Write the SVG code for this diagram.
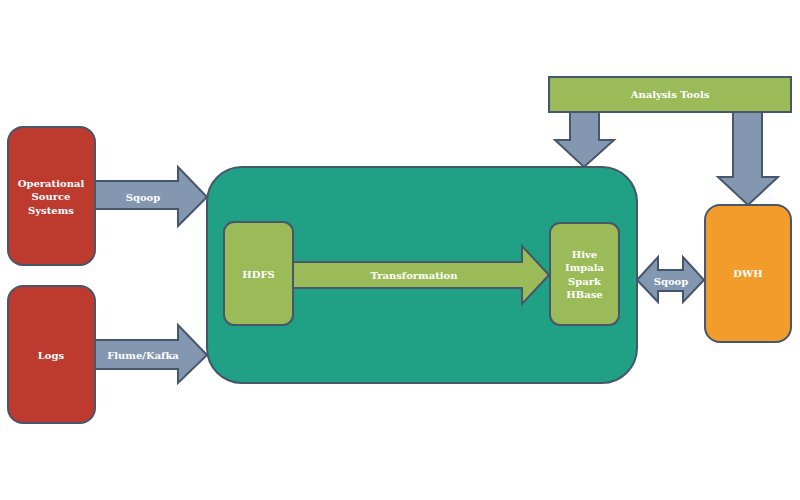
<svg xmlns="http://www.w3.org/2000/svg" width="800" height="500" viewBox="0 0 800 500">
<style>
  .st { stroke: #46566b; stroke-width: 2; stroke-linejoin: miter; }
  .red { fill: #bd3a2f; }
  .teal { fill: #20a084; }
  .green { fill: #9bbb59; }
  .orange { fill: #f29c2b; }
  .arr { fill: #8497b0; stroke: #46566b; stroke-width: 2; stroke-linejoin: miter; }
  .garr { fill: #9bbb59; stroke: #46566b; stroke-width: 2; stroke-linejoin: miter; }
  text { font-family: "DejaVu Serif", "Liberation Serif", serif; font-weight: bold; font-size: 10px; fill: #ffffff; text-anchor: middle; dominant-baseline: central; }
</style>
<rect width="800" height="500" fill="#ffffff"/>
<g id="connectors">
  <path class="arr" d="M95 181 H178 V167 L207 197 L178 226 V209 H95 Z"/>
  <path class="arr" d="M95 340 H178 V325 L207 355 L178 383 V369 H95 Z"/>
  <path class="arr" d="M570 112 H599 V140 H614 L584 167 L555 140 H570 Z"/>
  <path class="arr" d="M733 112 H762 V177 H778 L748 205 L718 177 H733 Z"/>
  <path class="arr" d="M637 280 L658 257 V270 H683 V257 L704 280 L683 302 V291 H658 V302 Z"/>
  <text x="143" y="197">Sqoop</text>
  <text x="143" y="355">Flume/Kafka</text>
  <text x="671" y="281">Sqoop</text>
</g>
<g id="operational">
  <rect class="red st" x="8" y="127" width="87" height="138" rx="15"/>
  <text x="51" y="183">Operational</text>
  <text x="51" y="196.5">Source</text>
  <text x="51" y="210">Systems</text>
</g>
<g id="logs">
  <rect class="red st" x="8" y="286" width="87" height="137" rx="15"/>
  <text x="51" y="355">Logs</text>
</g>
<g id="hadoop">
  <rect class="teal st" x="207" y="167" width="430" height="216" rx="35"/>
</g>
<g id="hdfs">
  <rect class="green st" x="224" y="222" width="69" height="103" rx="10"/>
  <text x="258.5" y="274">HDFS</text>
</g>
<g id="transformation">
  <path class="garr" d="M293 262 H522 V246 L549 275 L522 304 V288 H293 Z"/>
  <text x="414" y="275">Transformation</text>
</g>
<g id="hive">
  <rect class="green st" x="550" y="223" width="69" height="102" rx="10"/>
  <text x="584.5" y="254">Hive</text>
  <text x="584.5" y="267.5">Impala</text>
  <text x="584.5" y="281">Spark</text>
  <text x="584.5" y="294.5">HBase</text>
</g>
<g id="dwh">
  <rect class="orange st" x="705" y="205" width="86" height="137" rx="15"/>
  <text x="748" y="273">DWH</text>
</g>
<g id="analysis">
  <rect class="green st" x="549" y="77" width="242" height="35"/>
  <text x="670" y="94">Analysis Tools</text>
</g>
</svg>
